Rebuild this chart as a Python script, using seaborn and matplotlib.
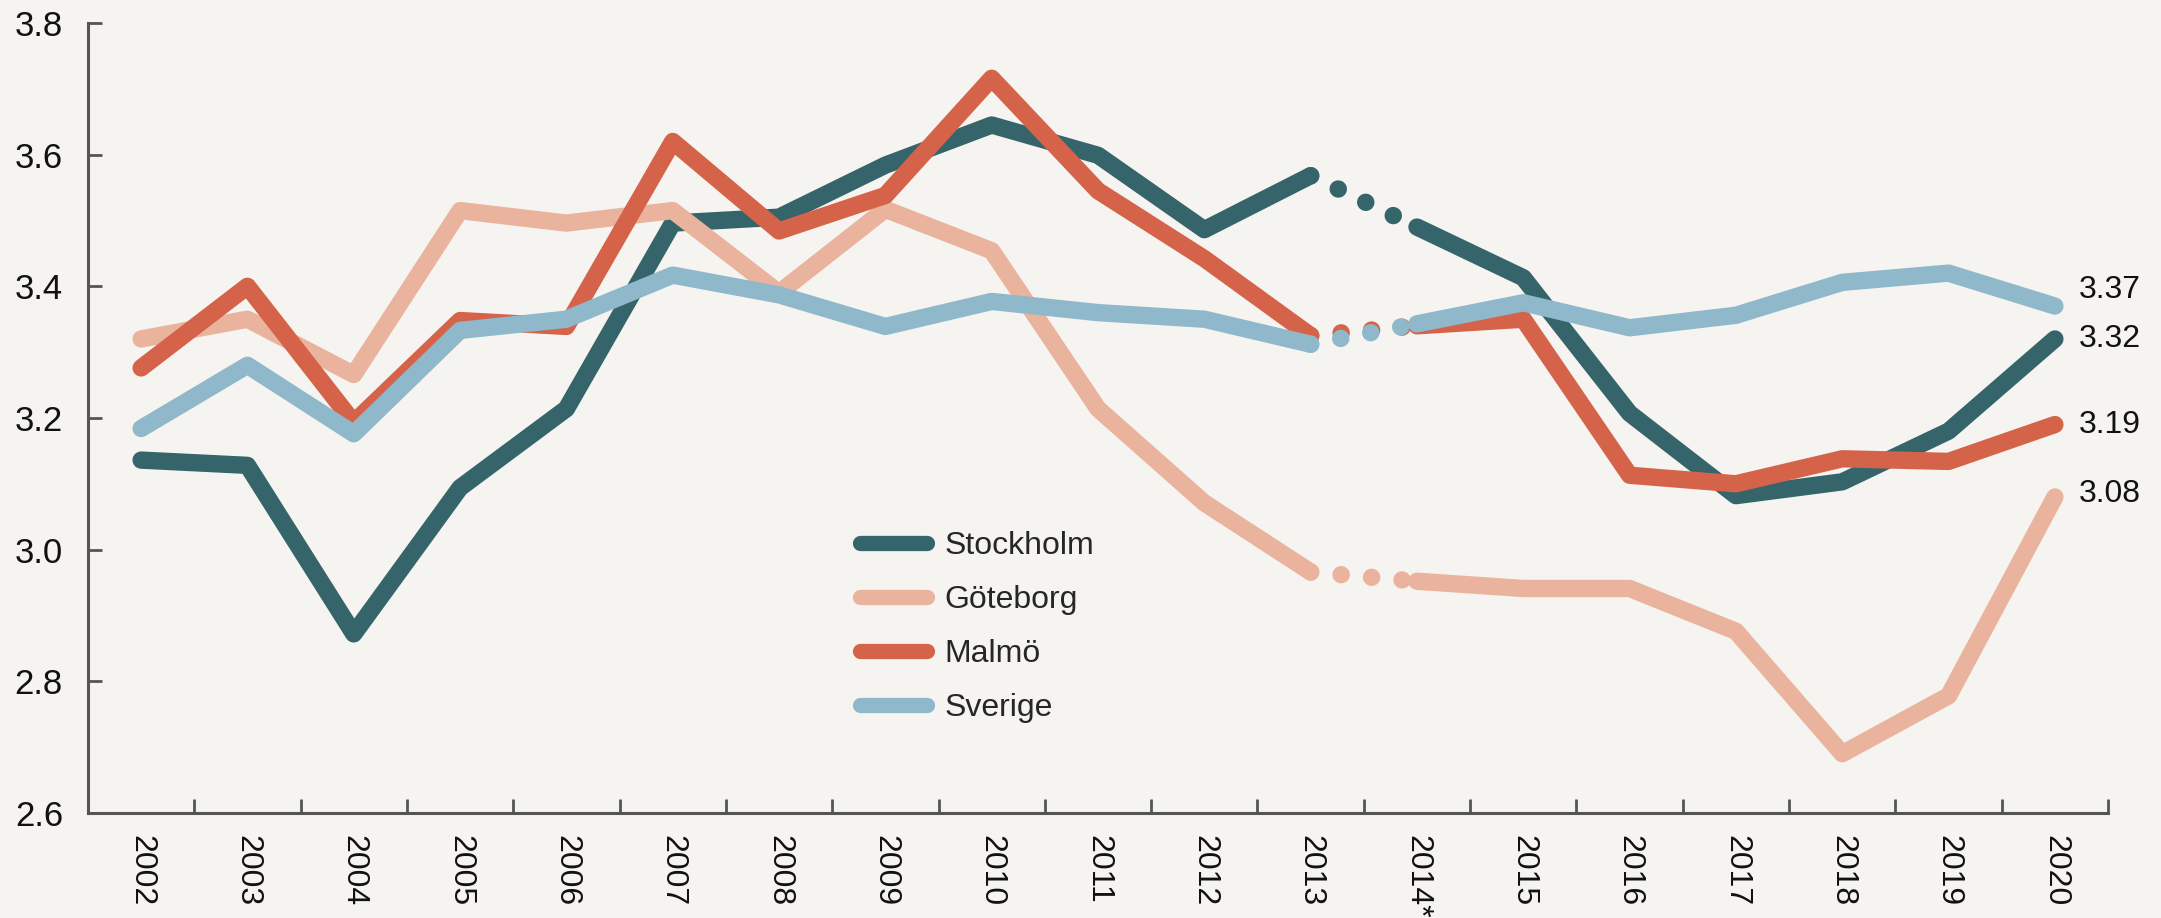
import seaborn as sns
import matplotlib.pyplot as plt
import pandas as pd
import numpy as np

# --- data ---
years = ["2002", "2003", "2004", "2005", "2006", "2007", "2008", "2009", "2010", "2011",
         "2012", "2013", "2014*", "2015", "2016", "2017", "2018", "2019", "2020"]

stockholm = [3.136, 3.128, 2.872, 3.094, 3.214, 3.496, 3.505, 3.584, 3.645, 3.599,
             3.486, 3.568, 3.490, 3.413, 3.207, 3.082, 3.103, 3.180, 3.32]
goteborg = [3.320, 3.350, 3.266, 3.515, 3.496, 3.515, 3.390, 3.517, 3.454, 3.214,
            3.071, 2.966, 2.952, 2.941, 2.941, 2.876, 2.690, 2.778, 3.08]
malmo = [3.276, 3.400, 3.193, 3.348, 3.339, 3.620, 3.484, 3.538, 3.716, 3.545,
         3.442, 3.325, 3.340, 3.350, 3.113, 3.100, 3.138, 3.134, 3.19]
sverige = [3.184, 3.280, 3.176, 3.333, 3.350, 3.417, 3.387, 3.339, 3.377, 3.360,
           3.350, 3.312, 3.343, 3.375, 3.337, 3.356, 3.406, 3.420, 3.37]

cities = ["Stockholm", "Göteborg", "Malmö", "Sverige"]
series = [stockholm, goteborg, malmo, sverige]
colors = ["#35656b", "#eab39d", "#d5634a", "#8fb8cb"]

gap_start = years.index("2013")
gap_end = years.index("2014*")

bg = "#f5f4f0"
sns.set_style("ticks")
plt.rcParams["font.family"] = ["Liberation Sans", "DejaVu Sans"]
plt.rcParams["figure.facecolor"] = bg
plt.rcParams["axes.facecolor"] = bg

fig = plt.figure(figsize=(21.61, 9.18), dpi=100)
ax = fig.add_axes([0.0407, 0.1144, 0.9348, 0.8606])

lw = 12.5
x = np.arange(len(years))
for city, vals, col in zip(cities, series, colors):
    df = pd.DataFrame({"x": x, "y": vals})
    pre = df[df.x <= gap_start]
    gap = df[(df.x >= gap_start) & (df.x <= gap_end)]
    post = df[df.x >= gap_end]
    sns.lineplot(data=pre, x="x", y="y", color=col, lw=lw, estimator=None,
                 solid_capstyle="round", solid_joinstyle="round", label=city, ax=ax)
    sns.lineplot(data=gap, x="x", y="y", color=col, lw=lw, estimator=None,
                 linestyle=(0, (0.01, 1.75)), dash_capstyle="round", ax=ax)
    sns.lineplot(data=post, x="x", y="y", color=col, lw=lw, estimator=None,
                 solid_capstyle="round", solid_joinstyle="round", ax=ax)

# end-of-line value labels (small vertical nudges to avoid overlap)
for vals, off in zip(series, [0.0, 0.005, 0.0, 0.025]):
    ax.text(len(years) - 1 + 0.22, vals[-1] + off, f"{vals[-1]:.2f}",
            fontsize=23, va="center", ha="left", color="#111111")

ax.set_xlim(-0.5, len(years) - 0.5)
ax.set_ylim(2.6, 3.8)
ax.set_yticks([2.6, 2.8, 3.0, 3.2, 3.4, 3.6, 3.8])
ax.set_yticklabels(["2.6", "2.8", "3.0", "3.2", "3.4", "3.6", "3.8"])
ax.set_xticks(x)
ax.set_xticklabels(years, rotation=270, va="top", ha="center")
ax.set_xticks(np.arange(-0.5, len(years), 1.0), minor=True)
ax.tick_params(axis="x", which="major", length=0, pad=16, labelsize=23, labelcolor="#111111")
ax.tick_params(axis="x", which="minor", length=10, width=2, direction="in", color="#555555")
ax.tick_params(axis="y", length=10, width=2, direction="in", pad=18, labelsize=25,
               color="#555555", labelcolor="#111111")
ax.set_xlabel("")
ax.set_ylabel("")

sns.despine(ax=ax)
for side in ["left", "bottom"]:
    ax.spines[side].set_color("#555555")
    ax.spines[side].set_linewidth(2.2)

leg = ax.legend(loc="center", bbox_to_anchor=(0.44, 0.235), frameon=False, fontsize=23,
                handlelength=2.1, handletextpad=0.55, labelspacing=0.75)
for h in leg.get_lines():
    h.set_linewidth(11)
    h.set_solid_capstyle("round")

fig.savefig("out.png", dpi=100, facecolor=bg)
plt.close(fig)
